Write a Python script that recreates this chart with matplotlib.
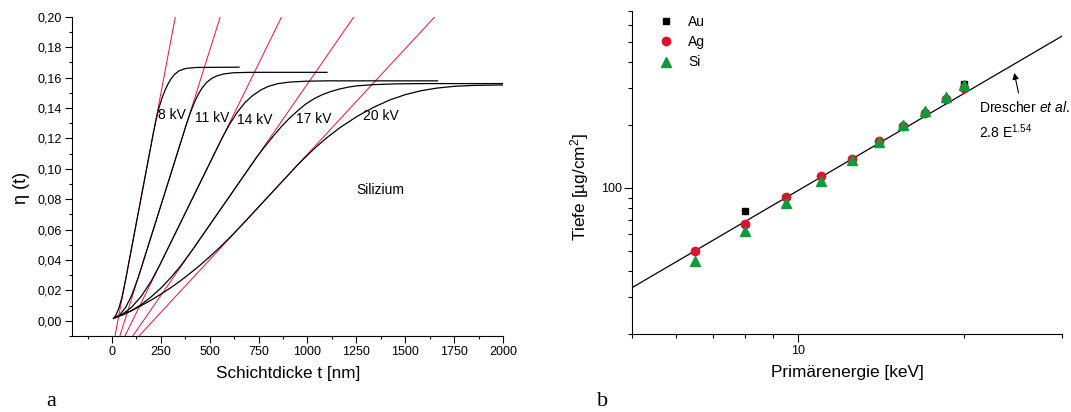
import numpy as np
import matplotlib
matplotlib.use("Agg")
import matplotlib.pyplot as plt
from matplotlib.ticker import FixedLocator, MultipleLocator, FuncFormatter, NullFormatter

plt.rcParams['font.family'] = ['Liberation Sans', 'DejaVu Sans']
plt.rcParams['mathtext.fontset'] = 'custom'
plt.rcParams['mathtext.rm'] = 'Liberation Sans'
plt.rcParams['mathtext.it'] = 'Liberation Sans:italic'

# ---------------- panel a data ----------------
voltages = ["8 kV", "11 kV", "14 kV", "17 kV", "20 kV"]

t_8kv = [7, 20, 35, 50, 66, 100, 150, 210, 225, 240, 255, 270, 285, 300, 320, 345, 380, 430, 650]
eta_8kv = [0.0016, 0.0037, 0.0083, 0.0151, 0.0247, 0.0478, 0.0818, 0.1226, 0.1320, 0.1400, 0.1462,
           0.1513, 0.1554, 0.1588, 0.1621, 0.1646, 0.1660, 0.1666, 0.1668]

t_11kv = [15, 40, 70, 100, 135, 200, 300, 380, 400, 420, 440, 460, 484, 510, 535, 570, 620, 700, 1100]
eta_11kv = [0.0020, 0.0040, 0.0089, 0.0165, 0.0289, 0.0554, 0.0963, 0.1291, 0.1366, 0.1432, 0.1487,
            0.1530, 0.1568, 0.1594, 0.1610, 0.1623, 0.1631, 0.1634, 0.1634]

t_14kv = [15, 50, 100, 150, 200, 244, 300, 400, 500, 560, 600, 640, 680, 720, 760, 800, 850, 910, 996, 1100, 1665]
eta_14kv = [0.0020, 0.0040, 0.0089, 0.0162, 0.0260, 0.0366, 0.0513, 0.0775, 0.1037, 0.1194, 0.1290,
            0.1370, 0.1435, 0.1482, 0.1517, 0.1542, 0.1560, 0.1570, 0.1576, 0.1578, 0.1578]

t_17kv = [15, 60, 100, 150, 200, 250, 300, 350, 413, 500, 600, 740, 780, 825, 870, 910, 960, 996,
          1040, 1081, 1120, 1166, 1210, 1252, 1337, 1450, 1600, 2000]
eta_17kv = [0.0020, 0.0042, 0.0067, 0.0107, 0.0157, 0.0215, 0.0283, 0.0359, 0.0469, 0.0631, 0.0816,
            0.1076, 0.1143, 0.1215, 0.1282, 0.1335, 0.1393, 0.1430, 0.1465, 0.1490, 0.1508, 0.1525,
            0.1537, 0.1545, 0.1553, 0.1558, 0.1560, 0.1560]

t_20kv = [15, 60, 100, 150, 200, 250, 300, 350, 400, 450, 500, 550, 600, 671, 800, 950, 1000, 1050,
          1100, 1166, 1252, 1337, 1422, 1500, 1580, 1660, 1750, 1850, 2000]
eta_20kv = [0.0020, 0.0044, 0.0067, 0.0100, 0.0136, 0.0175, 0.0217, 0.0263, 0.0313, 0.0365, 0.0422,
            0.0481, 0.0544, 0.0639, 0.0818, 0.1026, 0.1090, 0.1150, 0.1205, 0.1270, 0.1343, 0.1403,
            0.1453, 0.1487, 0.1513, 0.1530, 0.1542, 0.1548, 0.1551]

# tangent lines: thickness where they cross eta=-0.01 and eta=0.20
tangent_t_bottom = [15, 40, 66, 106, 138]
tangent_t_top = [324, 554, 868, 1238, 1652]
tangent_eta = [-0.01, 0.20]

label_t = [237, 425, 641, 941, 1282]
label_eta = [0.1353, 0.1331, 0.1320, 0.1325, 0.1347]

# ---------------- panel b data ----------------
energy = [6.5, 8, 9.5, 11, 12.5, 14, 15.5, 17, 18.5, 20]
depth_ag = [50.1, 67.5, 90.5, 114.2, 137.4, 167.5, 198.5, 227.5, 266.6, 300]
depth_si = [44.6, 62.6, 84.7, 108.0, 135.9, 166.3, 200, 234, 273, 311]
energy_au = [8, 20]
depth_au = [77.5, 314]
drescher_E = [5, 30]
drescher_T = [33.4, 530]

fig = plt.figure(figsize=(10.71, 4.12), dpi=100)
axa = fig.add_axes([0.0672, 0.1845, 0.4024, 0.775])
axb = fig.add_axes([0.5901, 0.1886, 0.4012, 0.7847])

red = '#e8103c'
curves_t = [t_8kv, t_11kv, t_14kv, t_17kv, t_20kv]
curves_eta = [eta_8kv, eta_11kv, eta_14kv, eta_17kv, eta_20kv]
for tb, tt in zip(tangent_t_bottom, tangent_t_top):
    axa.plot([tb, tt], tangent_eta, color=red, lw=0.7, zorder=2)
for tt, ee in zip(curves_t, curves_eta):
    axa.plot(tt, ee, color='black', lw=0.9, zorder=3)
for lab, x, y in zip(voltages, label_t, label_eta):
    axa.text(x, y, lab, fontsize=10, ha='left', va='center', zorder=4)
axa.text(1251, 0.086, "Silizium", fontsize=10, ha='left', va='center')

axa.set_xlim(-205, 2000)
axa.set_ylim(-0.01, 0.20)
axa.xaxis.set_major_locator(FixedLocator(list(range(0, 2001, 250))))
axa.xaxis.set_minor_locator(FixedLocator(list(range(-125, 2000, 250))))
axa.yaxis.set_major_locator(MultipleLocator(0.02))
axa.yaxis.set_minor_locator(MultipleLocator(0.01))
axa.yaxis.set_major_formatter(FuncFormatter(lambda v, p: f"{v:.2f}".replace('.', ',').replace('-0,00', '0,00')))
for s in ['top', 'right']:
    axa.spines[s].set_visible(False)
axa.tick_params(which='major', direction='out', length=5, width=0.8, labelsize=9, pad=2)
axa.tick_params(which='minor', direction='out', length=2.5, width=0.8)
axa.set_xlabel("Schichtdicke t [nm]", fontsize=12.3)
axa.xaxis.set_label_coords(0.501, -0.095)
axa.set_ylabel("η (t)", fontsize=13)
axa.yaxis.set_label_coords(-0.118, 0.4635)
axa.yaxis.label.set_va('center')

# panel b
axb.set_xscale('log')
axb.set_yscale('log')
axb.plot(drescher_E, drescher_T, color='black', lw=0.9, zorder=2)
axb.plot(energy_au, depth_au, ls='none', marker='s', ms=5, color='black', label='Au', zorder=3)
axb.plot(energy, depth_ag, ls='none', marker='o', ms=6, color='#e0102f', mec='#e0102f', label='Ag', zorder=4)
axb.plot(energy, depth_si, ls='none', marker='^', ms=7, color='#119a3a', mec='#119a3a', label='Si', zorder=5)
axb.set_xlim(5, 30)
axb.set_ylim(20, 700)
axb.xaxis.set_major_locator(FixedLocator([10]))
axb.xaxis.set_minor_locator(FixedLocator([5, 6, 7, 8, 9, 20, 30]))
axb.xaxis.set_major_formatter(FuncFormatter(lambda v, p: f"{v:g}"))
axb.xaxis.set_minor_formatter(NullFormatter())
axb.yaxis.set_major_locator(FixedLocator([100]))
axb.yaxis.set_minor_locator(FixedLocator([20, 30, 40, 50, 60, 70, 80, 90, 200, 300, 400, 500, 600, 700]))
axb.yaxis.set_major_formatter(FuncFormatter(lambda v, p: f"{v:g}"))
axb.yaxis.set_minor_formatter(NullFormatter())
for s in ['top', 'right']:
    axb.spines[s].set_visible(False)
axb.tick_params(which='major', direction='out', length=5.5, width=0.8, labelsize=9, pad=2)
axb.tick_params(which='minor', direction='out', length=3, width=0.8)
axb.set_xlabel("Primärenergie [keV]", fontsize=12.4)
axb.xaxis.set_label_coords(0.5003, -0.095)
axb.set_ylabel("Tiefe [µg/cm$^2$]", fontsize=12.4)
axb.yaxis.set_label_coords(-0.123, 0.4565)
axb.yaxis.label.set_va('center')

axb.legend(loc='upper left', bbox_to_anchor=(0.063, 0.988), frameon=False, fontsize=10,
           handlelength=1.0, handletextpad=1.1, labelspacing=0.45, borderpad=0, borderaxespad=0)

axb.annotate("", xy=(24.56, 365), xytext=(25.12, 276),
             arrowprops=dict(arrowstyle='-|>', color='black', lw=0.8, mutation_scale=9))
axb.text(21.28, 241.3, "Drescher $et\\ al.$", fontsize=10, ha='left', va='center')
axb.text(21.28, 185.7, "2.8 E$^{1.54}$", fontsize=10, ha='left', va='center')

fig.text(51 / 1071, 1 - 401 / 412, "a", fontsize=16, family='Liberation Serif', ha='center', va='center')
fig.text(602.7 / 1071, 1 - 401 / 412, "b", fontsize=16, family='Liberation Serif', ha='center', va='center')

fig.savefig("out.png", dpi=100)
